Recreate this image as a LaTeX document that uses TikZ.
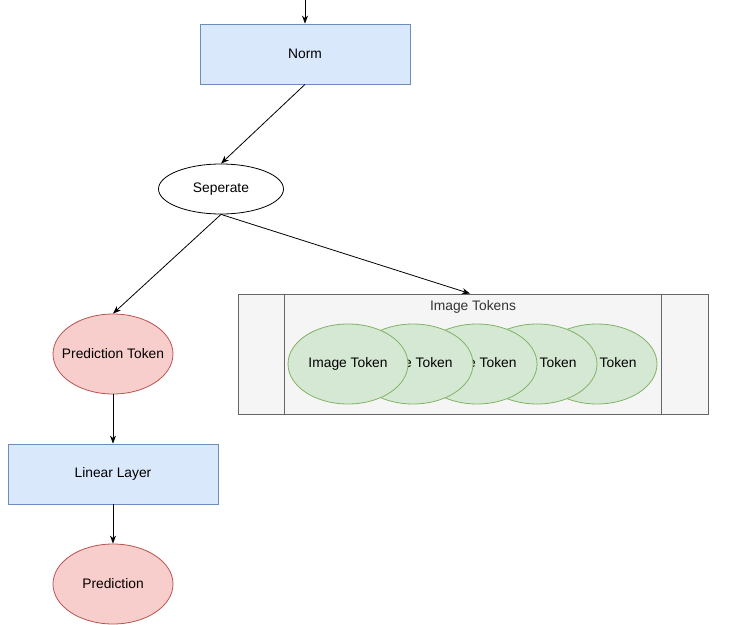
\documentclass[tikz,border=0pt]{standalone}
\usepackage{fontspec}
\setmainfont{Liberation Sans}
\usepackage{xcolor}
\usetikzlibrary{shapes.geometric,arrows.meta,positioning}

\definecolor{boxblue}{HTML}{DAE8FC}
\definecolor{boxblueline}{HTML}{6C8EBF}
\definecolor{tokred}{HTML}{F8CECC}
\definecolor{tokredline}{HTML}{B85450}
\definecolor{tokgreen}{HTML}{D5E8D4}
\definecolor{tokgreenline}{HTML}{82B366}
\definecolor{groupgray}{HTML}{F5F5F5}
\definecolor{groupgrayline}{HTML}{666666}
\definecolor{grouptext}{HTML}{333333}

\begin{document}
\begin{tikzpicture}[x=1pt,y=-1pt,
  font=\fontsize{13.8}{16}\selectfont,
  layerbox/.style={draw=boxblueline, fill=boxblue, line width=0.8pt,
    minimum width=210pt, minimum height=60pt, inner sep=0pt},
  predtok/.style={ellipse, draw=tokredline, fill=tokred, line width=0.8pt,
    minimum width=120pt, minimum height=80pt, inner xsep=-25pt, inner ysep=0pt},
  imgtok/.style={ellipse, draw=tokgreenline, fill=tokgreen, line width=0.8pt,
    minimum width=120pt, minimum height=80pt, inner xsep=-25pt, inner ysep=0pt},
  flow/.style={-{Stealth[length=8pt,width=6pt,inset=2.5pt]}, line width=0.8pt}]
  % Page size
  \useasboundingbox (0,0) rectangle (749,624);

  % Top part
  \coordinate (input) at (305,0);
  \node[layerbox] (norm) at (305,54) {Norm};
  \node[ellipse, draw, fill=white, line width=0.8pt, minimum width=125pt,
    minimum height=50pt, inner xsep=-10pt, inner ysep=0pt] (seperate) at (221,189) {Seperate};

  % Prediction branch
  \node[predtok] (predtoken) at (113,354) {Prediction Token};
  \node[layerbox] (linear) at (113,474) {Linear Layer};
  \node[predtok] (prediction) at (113,584) {Prediction};

  % Image token group (swimlane-like container)
  \node[draw=groupgrayline, fill=groupgray, line width=0.8pt,
    minimum width=470pt, minimum height=120pt, inner sep=0pt] (imgtokens) at (473,354) {};
  \draw[groupgrayline, line width=0.8pt] ([xshift=47pt]imgtokens.north west) -- ([xshift=47pt]imgtokens.south west);
  \draw[groupgrayline, line width=0.8pt] ([xshift=-47pt]imgtokens.north east) -- ([xshift=-47pt]imgtokens.south east);
  \node[text=grouptext] (imgtitle) at (473,307) {Image Tokens};

  % Overlapping tokens, drawn right to left so the first one is on top
  \foreach \cx/\name in {597/tokfive,537/tokfour,477/tokthree,413/toktwo,348/tokone}
    \node[imgtok] (\name) at (\cx,364) {Image Token};

  % Connectors
  \draw[flow] (input) -- (norm.north);
  \draw[flow] (norm.south) -- (seperate.north);
  \draw[flow] (seperate.south) -- (predtoken.north);
  \draw[flow] (seperate.south) -- ([xshift=-3pt]imgtokens.north);
  \draw[flow] (predtoken.south) -- (linear.north);
  \draw[flow] (linear.south) -- (prediction.north);
\end{tikzpicture}
\end{document}
